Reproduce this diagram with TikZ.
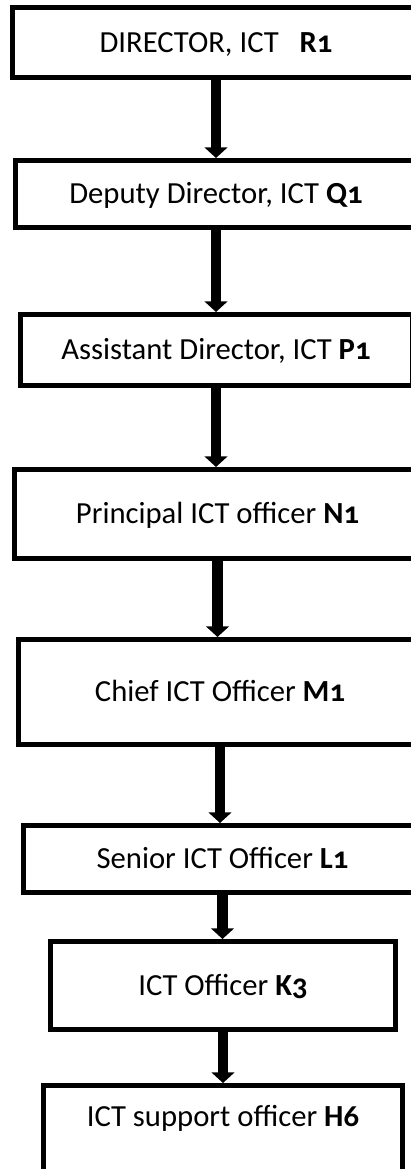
\documentclass[tikz,border=0pt]{standalone}
\usepackage{fontspec}
\setmainfont[Numbers=OldStyle]{Carlito}
\usetikzlibrary{arrows.meta}

\tikzset{
  post/.style={draw, line width=3.75pt, fill=white, font=\fontsize{23}{27}\selectfont,
    text height=14.8pt, text depth=0pt, inner sep=0pt},
  link/.style={line width=7.9pt, -{Triangle[width=17pt,length=8pt]}}
}

\begin{document}
\begin{tikzpicture}[x=0.75pt,y=-0.75pt]
    \useasboundingbox (0,0) rectangle (410,1169);

    % the posts, top to bottom
    \node[post, minimum width=305.25pt, minimum height=52.5pt] (r1) at (216,42.5) {DIRECTOR, ICT\ \ \ \textbf{R1}};
    \node[post, minimum width=300.75pt, minimum height=50.25pt] (q1) at (216,194) {Deputy Director, ICT \textbf{Q1}};
    \node[post, minimum width=294pt, minimum height=53.25pt] (p1) at (216,350) {Assistant Director, ICT \textbf{P1}};
    \node[post, minimum width=305.25pt, minimum height=66.4pt] (n1) at (217.5,513.75) {Principal ICT officer \textbf{N1}};
    \node[post, minimum width=302.25pt, minimum height=78.75pt] (m1) at (220,692) {Chief ICT Officer \textbf{M1}};
    \node[post, minimum width=298.5pt, minimum height=50.25pt] (l1) at (222.5,859) {Senior ICT Officer \textbf{L1}};
    \node[post, minimum width=258.75pt, minimum height=66pt] (k3) at (223,985.5) {ICT Officer \textbf{K3}};
    % last box runs off the page
    \node[post, minimum width=268.9pt, anchor=north, inner ysep=16pt, text depth=130pt] (h6) at (223,1083) {ICT support officer \textbf{H6}};

    % reporting lines
    \draw[link] (r1.south) -- (r1.south |- q1.north);
    \draw[link] (q1.south) -- (q1.south |- p1.north);
    \draw[link] (p1.south) -- (p1.south |- n1.north);
    \draw[link] (n1.south) -- (n1.south |- m1.north);
    \draw[link] (m1.south) -- (m1.south |- l1.north);
    \draw[link] (l1.south) -- (l1.south |- k3.north);
    \draw[link] (k3.south) -- (k3.south |- h6.north);
\end{tikzpicture}
\end{document}
